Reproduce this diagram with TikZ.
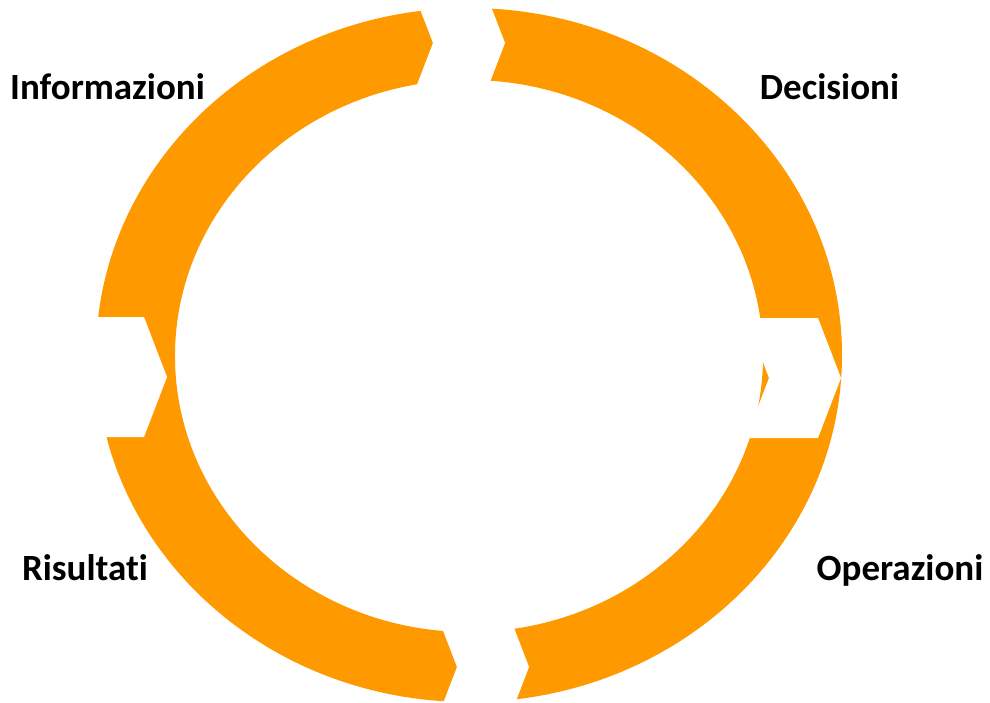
\documentclass[tikz,border=0pt]{standalone}
\usepackage{fontspec}
\setmainfont{Carlito}[Ligatures={NoCommon}]
\usepackage{xcolor}
\usepackage{tikz}
\definecolor{cycleorange}{RGB}{255,153,0}
\tikzset{steplabel/.style={font=\fontsize{37}{44}\selectfont\bfseries,anchor=base,inner sep=0pt},
         gapfill/.style={fill=white,draw=none}}

\begin{document}
\begin{tikzpicture}[x=1pt,y=-1pt]
\useasboundingbox (0,0) rectangle (990,702);
\fill[white] (0,0) rectangle (990,702);
% the ring
\fill[cycleorange,even odd rule] (469,355) ellipse [x radius=373pt,y radius=347pt]
                                 (469,356) ellipse [x radius=294pt,y radius=276pt];
% the four cuts, each a chevron pointing right
\foreach \px/\py in {505/43,841/378,529/667,167/377}
  \path[gapfill,shift={(\px,\py)}] (0,0)--(-23,-60)--(-95,-60)--(-72,0)--(-95,60)--(-23,60)--cycle;
\foreach \x/\y/\name/\txt in {107.5/99/info/Informazioni,829.5/99/deci/Decisioni,
                              900/580/oper/Operazioni,85/580/risu/Risultati}
  \draw(\x,\y) node[steplabel] (\name) {\txt};
\end{tikzpicture}
\end{document}
